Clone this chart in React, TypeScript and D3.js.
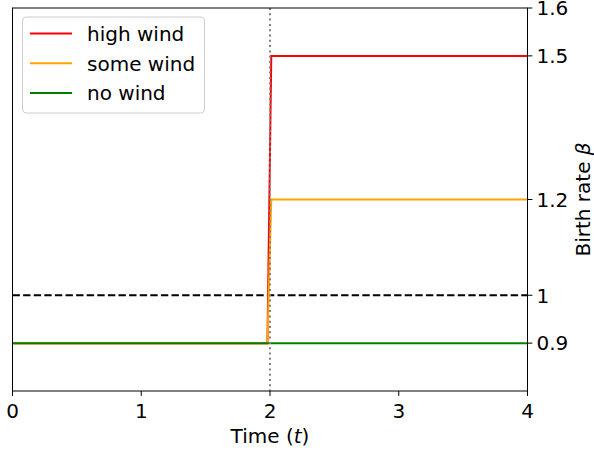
import React from "react";
import * as d3 from "d3";

const times = [0, 1.98, 2.01, 4];
const highWind = [0.9, 0.9, 1.5, 1.5];
const someWind = [0.9, 0.9, 1.2, 1.2];
const noWind = [0.9, 0.9, 0.9, 0.9];
const seriesNames = ["high wind", "some wind", "no wind"];
const seriesColors = ["#ff0000", "#ffa500", "#008000"];
const xTicks = [0, 1, 2, 3, 4];
const yTicks = [0.9, 1, 1.2, 1.5, 1.6];
const baseline = 1;
const changeTime = 2;

export default function App() {
  const W = 594, H = 451;
  const left = 12.5, right = 527.5, top = 8, bottom = 391;
  const x = d3.scaleLinear().domain([0, 4]).range([left, right]);
  const y = d3.scaleLinear().domain([0.8, 1.6]).range([bottom, top]);
  const series = [highWind, someWind, noWind];
  const line = (vals: number[]) =>
    d3.line<number>().x((_, i) => x(times[i])).y((v) => y(v))(vals) as string;
  const font = "DejaVu Sans, sans-serif";
  const fs = 20;
  return (
    <svg width={W} height={H} style={{ position: "absolute", left: 0, top: 0 }} fontFamily={font}>
      <rect x={0} y={0} width={W} height={H} fill="#fff" />
      <line x1={left} x2={right} y1={y(baseline)} y2={y(baseline)} stroke="#000" strokeWidth={2} strokeDasharray="7.4,3.2" />
      {series.map((s, i) => (
        <path key={i} d={line(s)} fill="none" stroke={seriesColors[i]} strokeWidth={2} />
      ))}
      <line x1={x(changeTime)} x2={x(changeTime)} y1={top} y2={bottom} stroke="#808080" strokeWidth={2} strokeDasharray="2,3.3" />
      <rect x={left} y={top} width={right - left} height={bottom - top} fill="none" stroke="#000" strokeWidth={1} />
      {xTicks.map((t) => (
        <g key={t}>
          <line x1={x(t)} x2={x(t)} y1={bottom} y2={bottom + 4.9} stroke="#000" />
          <text x={x(t)} y={bottom + 26.5} textAnchor="middle" fontSize={fs}>{t}</text>
        </g>
      ))}
      {yTicks.map((t) => (
        <g key={t}>
          <line x1={right} x2={right + 4.9} y1={y(t)} y2={y(t)} stroke="#000" />
          <text x={right + 9} y={y(t) + 7.3} textAnchor="start" fontSize={fs}>{t}</text>
        </g>
      ))}
      <text x={(left + right) / 2} y={443} textAnchor="middle" fontSize={fs}>
        Time (<tspan fontStyle="italic">t</tspan>)
      </text>
      <text transform={`translate(590,${(top + bottom) / 2}) rotate(-90)`} textAnchor="middle" fontSize={fs}>
        Birth rate <tspan fontStyle="italic">β</tspan>
      </text>
      <rect x={22.5} y={17} width={182} height={96} rx={4} fill="#fff" fillOpacity={0.8} stroke="#cccccc" strokeWidth={1} />
      {seriesNames.map((n, i) => (
        <g key={n}>
          <line x1={30} x2={72} y1={33.5 + i * 29.8} y2={33.5 + i * 29.8} stroke={seriesColors[i]} strokeWidth={2} />
          <text x={87} y={33.5 + i * 29.8 + 7.2} fontSize={fs}>{n}</text>
        </g>
      ))}
    </svg>
  );
}
